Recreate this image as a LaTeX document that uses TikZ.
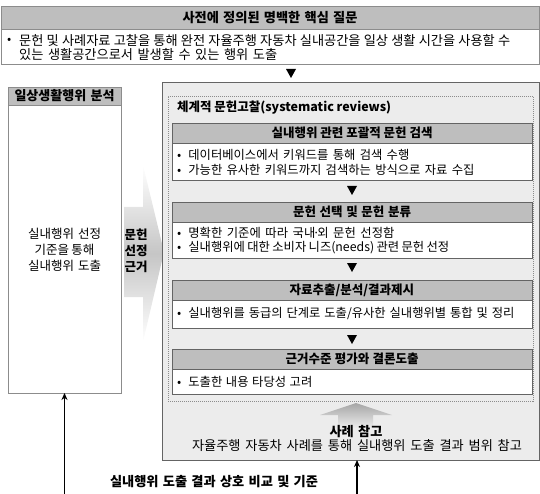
\documentclass[tikz,border=0pt]{standalone}
\usepackage{fontspec}
\setmainfont{Noto Sans CJK KR}[WordSpace=1.3]
\usetikzlibrary{arrows.meta}
\definecolor{hdr}{RGB}{190,190,190}
\definecolor{bd}{RGB}{100,100,100}
\definecolor{bdl}{RGB}{140,140,140}
\definecolor{bg}{RGB}{236,236,236}
\newcommand\rnode[6]{\node[#1, anchor=north west, minimum width={(#5-#3)*1pt}, minimum height={(#6-#4)*1pt}] (#2) at (#3,#4) {};}
\newcommand\sw[2]{\makebox[#1pt][s]{#2}}
\tikzset{
  hbox/.style={draw=bd, fill=hdr, line width=0.8pt, inner sep=0pt, outer sep=0pt},
  bbox/.style={draw=bd, fill=white, line width=0.8pt, inner sep=0pt, outer sep=0pt},
  obox/.style={draw=bd, fill=bg, line width=0.8pt, inner sep=0pt, outer sep=0pt},
  dbox/.style={draw=bdl, dash pattern=on 1pt off 1pt, line width=0.8pt, inner sep=0pt, outer sep=0pt},
  htxt/.style={inner sep=0pt, font=\fontsize{12.5}{14}\selectfont\bfseries},
  bhtxt/.style={inner sep=0pt, font=\fontsize{13.2}{15}\selectfont\bfseries},
  txt/.style={inner sep=0pt, anchor=west, font=\fontsize{12.3}{14}\selectfont},
  btxt/.style={inner sep=0pt, anchor=west, font=\fontsize{13.2}{15}\selectfont},
  ctxt/.style={inner sep=0pt, align=center, font=\fontsize{12.5}{16}\selectfont},
  tri/.style={fill=black},
  bigarrow/.style={line width=1.6pt, -{Stealth[length=7pt,width=6pt]}},
}
\begin{document}
\begin{tikzpicture}[x=1pt,y=-1pt]
\useasboundingbox (0,0) rectangle (540,494);
% top box
\rnode{hbox,draw=bdl}{th}{1}{6}{539}{29}
\rnode{bbox,draw=bdl}{tb}{1}{29}{539}{64}
\node[bhtxt] (tht) at (270,17.5) {\sw{175}{사전에 정의된 명백한 핵심 질문}};
\node[txt] (tbb) at (7,41) {•};
\node[btxt] (tb1) at (19,41) {\sw{491}{문헌 및 사례자료 고찰을 통해 완전 자율주행 자동차 실내공간을 일상 생활 시간을 사용할 수}};
\node[btxt] (tb2) at (19,55) {\sw{258}{있는 생활공간으로서 발생할 수 있는 행위 도출}};
\fill[tri] (286,69) -- (296,69) -- (291,78) -- cycle;
% left box
\rnode{bbox,draw=bdl}{lb}{8}{87}{121}{393}
\rnode{hbox,draw=bdl}{lh}{8}{87}{121}{105}
\node[bhtxt, font=\fontsize{13}{15}\selectfont\bfseries] (lht) at (lh.center) {\sw{100}{일상생활행위 분석}};
\node[ctxt] (lbt) at (64.5,250) {\sw{73}{실내행위 선정}\\\sw{60}{기준을 통해}\\\sw{73}{실내행위 도출}};
% gradient arrow
\shade[top color=white, bottom color=white, middle color=gray!45]
  (124,207) -- (143,207) -- (143,165) -- (164,252) -- (143,342) -- (143,297) -- (124,297) -- cycle;
\node[ctxt, font=\fontsize{12.5}{16}\selectfont\bfseries] (gat) at (136,251) {문헌\\선정\\근거};
% outer box
\rnode{obox}{ob}{162}{82}{539.6}{460}
\rnode{dbox}{db}{168}{96}{533}{401}
\node[txt, font=\fontsize{12.5}{14}\selectfont\bfseries] (dbt) at (177,108) {\sw{214}{체계적 문헌고찰(systematic reviews)}};
% step 1
\rnode{bbox}{s1b}{172}{143}{532}{180}
\rnode{hbox}{s1h}{172}{123}{532}{143}
\node[htxt] (s1t) at (s1h.center) {\sw{161}{실내행위 관련 포괄적 문헌 검색}};
\node[txt] (s1a) at (177,155) {•\hspace{7pt}\sw{221}{데이터베이스에서 키워드를 통해 검색 수행}};
\node[txt] (s1c) at (177,170) {•\hspace{7pt}\sw{286}{가능한 유사한 키워드까지 검색하는 방식으로 자료 수집}};
\fill[tri] (347,186) -- (357,186) -- (352,195) -- cycle;
% step 2
\rnode{bbox}{s2b}{172}{222}{532}{258}
\rnode{hbox}{s2h}{172}{202}{532}{222}
\node[htxt] (s2t) at (s2h.center) {\sw{118}{문헌 선택 및 문헌 분류}};
\node[txt] (s2a) at (177,233) {•\hspace{7pt}\sw{206}{명확한 기준에 따라 국내\kern-2.5pt·\kern-2.5pt외 문헌 선정함}};
\node[txt] (s2c) at (177,248) {•\hspace{7pt}\sw{256}{실내행위에 대한 소비자 니즈(needs) 관련 문헌 선정}};
\fill[tri] (347,263) -- (357,263) -- (352,272) -- cycle;
% step 3
\rnode{bbox}{s3b}{172}{300}{532}{328}
\rnode{hbox}{s3h}{172}{280}{532}{300}
\node[htxt] (s3t) at (s3h.center) {\sw{125}{자료추출/분석/결과제시}};
\node[txt] (s3a) at (177,313) {•\hspace{7pt}\sw{326}{실내행위를 동급의 단계로 도출/유사한 실내행위별 통합 및 정리}};
\fill[tri] (347,335) -- (357,335) -- (352,344) -- cycle;
% step 4
\rnode{bbox}{s4b}{172}{369}{532}{394}
\rnode{hbox}{s4h}{172}{349}{532}{369}
\node[htxt] (s4t) at (s4h.center) {\sw{133}{근거수준 평가와 결론도출}};
\node[txt] (s4a) at (177,382) {•\hspace{7pt}\sw{124}{도출한 내용 타당성 고려}};
% gray up arrow
\shade[top color=gray!70, bottom color=bg]
  (338,428) -- (338,415) -- (320,415) -- (356,403) -- (392,415) -- (373,415) -- (373,428) -- cycle;
\node[bhtxt] (cst) at (356,432) {\sw{53}{사례 참고}};
\node[ctxt, font=\fontsize{13.2}{15}\selectfont] (csd) at (357,446) {\sw{330}{자율주행 자동차 사례를 통해 실내행위 도출 결과 범위 참고}};
% bottom
\node[bhtxt] (bt) at (214,482) {\sw{208}{실내행위 도출 결과 상호 비교 및 기준}};
\coordinate (la) at (64.5,494);
\coordinate (ra) at (357,494);
\draw[bigarrow] (la) -- (lb.south);
\draw[bigarrow] (ra) -- (ra |- ob.south);
\end{tikzpicture}
\end{document}
